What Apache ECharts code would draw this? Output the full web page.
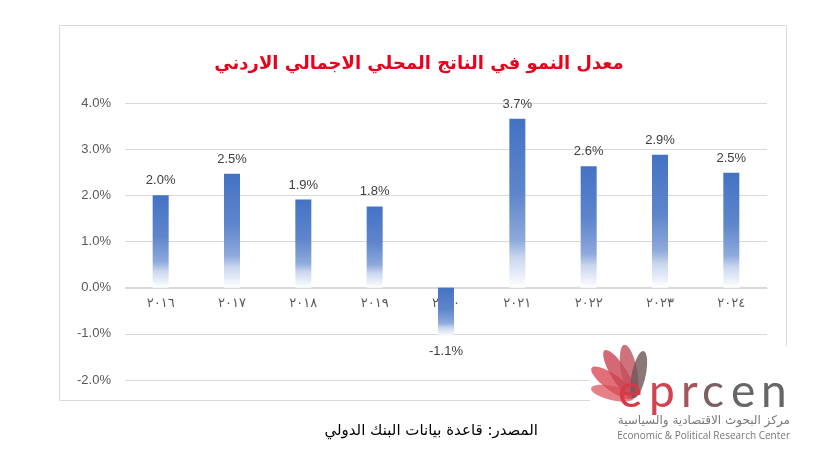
<!DOCTYPE html>
<html>
<head>
<meta charset="utf-8">
<script src="https://cdn.jsdelivr.net/npm/echarts@6/dist/echarts.min.js"></script>
<style>
  html, body { margin: 0; padding: 0; background: #fff; }
  #chart { width: 838px; height: 465px; }
</style>
</head>
<body>
<div id="chart"></div>
<script>
// سنوات ونسب النمو (٪)
const years = ['٢٠١٦', '٢٠١٧', '٢٠١٨', '٢٠١٩', '٢٠٢٠', '٢٠٢١', '٢٠٢٢', '٢٠٢٣', '٢٠٢٤']
const growth = [2.0, 2.47, 1.91, 1.76, -1.06, 3.66, 2.63, 2.88, 2.49]

const titleText = 'معدل النمو في الناتج المحلي الاجمالي الاردني'
const sourceText = 'المصدر: قاعدة بيانات البنك الدولي'

const chart = echarts.init(document.getElementById('chart'))

// تدرج الأعمدة: أزرق في الأعلى ثم يتلاشى للأبيض
const barFill = new echarts.graphic.LinearGradient(0, 0, 0, 1, [
  {offset: 0, color: '#4472C4'},
  {offset: 0.45, color: '#5F86CC'},
  {offset: 0.72, color: '#8EA9DC'},
  {offset: 0.82, color: '#C9D6EE'},
  {offset: 1, color: '#FFFFFF'}
])

const petal = (rx, ry, rot, color) => ({
  type: 'ellipse',
  shape: {cx: 0, cy: -ry, rx: rx, ry: ry},
  x: 634, y: 398, rotation: rot,
  style: {fill: color, opacity: 0.8},
  z: 101
})

// حروف الشعار
const logoLetters = [
  {t: 'e', x: 618, c: '#D63A49'},
  {t: 'p', x: 649, c: '#CF4450'},
  {t: 'r', x: 681, c: '#A5545B'},
  {t: 'c', x: 702, c: '#7A6062'},
  {t: 'e', x: 731, c: '#666'},
  {t: 'n', x: 761, c: '#666'}
].map(l => ({
  type: 'text',
  x: l.x, y: 392,
  style: {text: l.t, fontSize: 46, fontFamily: 'Lato', fill: l.c, verticalAlign: 'middle'},
  z: 102
}))

const option = {
  animation: false,
  textStyle: {fontFamily: 'Liberation Sans, Arial, sans-serif'},
  title: {
    text: titleText,
    left: 'center',
    top: 50,
    textStyle: {
      fontFamily: 'DejaVu Sans',
      fontSize: 18,
      fontWeight: 'bold',
      color: '#E8001C'
    }
  },
  grid: {left: 125, right: 71, top: 103, bottom: 85},
  xAxis: {
    type: 'category',
    data: years,
    offset: -92,
    z: 0,
    axisLine: {onZero: false, lineStyle: {color: '#D9D9D9'}},
    axisTick: {show: false},
    axisLabel: {color: '#595959', fontSize: 13, margin: 9, fontFamily: 'DejaVu Sans'}
  },
  yAxis: {
    type: 'value',
    min: -2,
    max: 4,
    interval: 1,
    axisLine: {show: false},
    axisTick: {show: false},
    splitLine: {lineStyle: {color: '#D9D9D9'}},
    axisLabel: {
      color: '#595959',
      fontSize: 13,
      margin: 14,
      formatter: v => v.toFixed(1) + '%'
    }
  },
  series: [{
    type: 'bar',
    data: growth,
    barWidth: 16,
    z: 10,
    itemStyle: {color: barFill},
    label: {
      show: true,
      position: 'outside',
      distance: 8,
      color: '#404040',
      fontSize: 13,
      formatter: p => p.value.toFixed(1) + '%'
    }
  }],
  graphic: [
    // إطار المخطط
    {
      type: 'rect',
      shape: {x: 59.5, y: 25.5, width: 727, height: 375},
      style: {fill: 'none', stroke: '#D9D9D9', lineWidth: 1},
      z: -1
    },
    {
      type: 'text',
      x: 538, y: 431,
      style: {
        text: sourceText,
        fill: '#000',
        fontSize: 15,
        fontFamily: 'DejaVu Sans',
        align: 'right',
        verticalAlign: 'middle'
      }
    },
    // الشعار (تقريبي)
    {
      type: 'rect',
      shape: {x: 590, y: 346, width: 248, height: 119},
      style: {fill: '#fff'},
      z: 100
    },
    petal(7, 22, 1.35, '#E0606A'),
    petal(8, 26, 0.95, '#D84B57'),
    petal(8, 28, 0.55, '#C94450'),
    petal(8, 27, 0.18, '#C0505A'),
    petal(7, 24, -0.2, '#6E5558'),
    ...logoLetters,
    {
      type: 'text',
      x: 790, y: 421,
      style: {
        text: 'مركز البحوث الاقتصادية والسياسية',
        fontSize: 12,
        fontFamily: 'DejaVu Sans',
        fill: '#777',
        align: 'right',
        verticalAlign: 'middle'
      },
      z: 102
    },
    {
      type: 'text',
      x: 790, y: 436,
      style: {
        text: 'Economic & Political Research Center',
        fontSize: 10,
        fontFamily: 'Open Sans',
        fill: '#777',
        align: 'right',
        verticalAlign: 'middle'
      },
      z: 102
    }
  ]
}

chart.setOption(option)
</script>
</body>
</html>
